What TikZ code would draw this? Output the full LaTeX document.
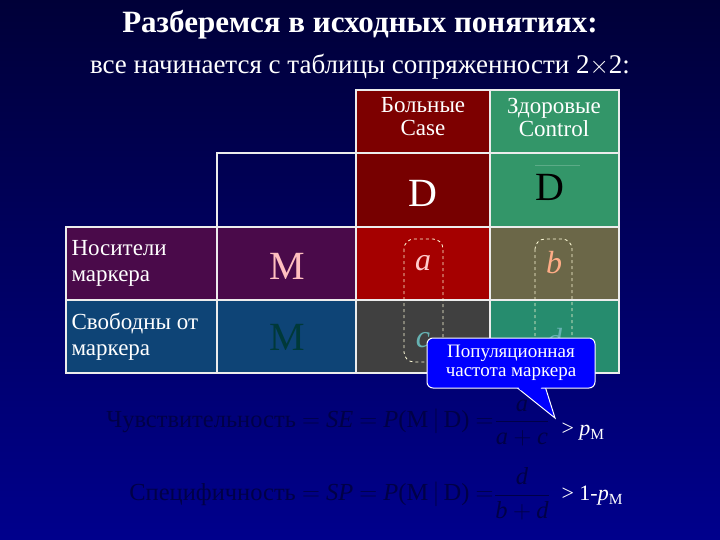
\documentclass[tikz,border=0pt]{standalone}
\usepackage{fontspec}
\setmainfont{Liberation Serif}
\definecolor{hgreen}{RGB}{51,150,105}
\definecolor{dgreen}{RGB}{38,140,110}
\definecolor{bcell}{RGB}{107,103,72}
\definecolor{frow}{RGB}{14,68,118}
\definecolor{prow}{RGB}{74,10,74}
\definecolor{acell}{RGB}{165,0,0}
\definecolor{hred}{RGB}{125,0,0}
\begin{document}
\begin{tikzpicture}[x=1pt,y=-1pt,
 cell/.style={draw=white!85!gray,line width=1.2pt},
 big/.style={font=\fontsize{40}{40}\selectfont},
 let/.style={font=\itshape\fontsize{32}{32}\selectfont},
 lab/.style={font=\fontsize{23}{26}\selectfont,align=left,anchor=west,text=white},
 hdr/.style={font=\fontsize{23}{23}\selectfont,align=center,text=white},
 frm/.style={font=\fontsize{24.5}{24}\selectfont,text=black!72!blue},
 dsh/.style={draw=white!85!yellow,dashed,rounded corners=10pt,line width=0.8pt}]
\useasboundingbox (0,0) rectangle (720,540);
\shade[top color=black!78!blue, bottom color=black!45!blue] (0,0) rectangle (720,540);
\node[text=white,font=\bfseries\fontsize{31}{31}\selectfont] (t) at (360,25) {Разберемся в исходных понятиях:};
\node[text=white,font=\fontsize{27}{27}\selectfont] (st) at (360,67) {все начинается с таблицы сопряженности 2$\times$2:};
% header
\fill[hred] (356,90) rectangle (490,153);
\fill[hgreen] (490,90) rectangle (619,153);
\draw[cell] (356,90) rectangle (490,153) (490,90) rectangle (619,153);
\node[hdr] (h1) at (423,117) {Больные\\Case};
\node[hdr] (h2) at (554,117) {Здоровые\\Control};
% D row
\draw[cell] (217,153) rectangle (356,227);
\fill[hred!95!black] (356,153) rectangle (490,227);
\fill[hgreen] (490,153) rectangle (619,227);
\draw[cell] (356,153) rectangle (490,227) (490,153) rectangle (619,227);
\node[big,text=white] (d1) at (423,193) {D};
\node[big,text=black] (d2) at (550,187) {D};
\draw[hgreen!80!white,line width=0.6pt] (535,165) -- (580,165);
% M row
\fill[prow] (66,227) rectangle (356,300);
\fill[acell] (356,227) rectangle (490,300);
\fill[bcell] (490,227) rectangle (619,300);
\draw[cell] (66,227) rectangle (217,300) (217,227) rectangle (356,300) (356,227) rectangle (490,300) (490,227) rectangle (619,300);
\node[lab] (n1) at (68,263) {Носители\\маркера};
\node[big,text=pink] (m1) at (287,266) {M};
\node[let,text=pink!80!white] (a) at (423,263) {a};
\node[let,text=pink!70!orange] (b) at (554,263) {b};
% not M row
\fill[frow] (66,300) rectangle (356,373);
\fill[black!75] (356,300) rectangle (490,373);
\fill[dgreen] (490,300) rectangle (619,373);
\draw[cell] (66,300) rectangle (217,300) (66,300) rectangle (217,373) (217,300) rectangle (356,373) (356,300) rectangle (490,373) (490,300) rectangle (619,373);
\node[lab] (n2) at (68,337) {Свободны от\\маркера};
\node[big,text=teal!45!black] (m2) at (287,337) {M};
\node[let,text=teal!60!white] (c) at (423,340) {c};
\node[let,text=teal!60!white] (dd) at (554,340) {d};
\draw[dsh] (404,239) rectangle (443,362);
\draw[dsh] (535,239) rectangle (572,362);
% callout
\coordinate (tip) at (555,418);
\fill[blue,draw=white,line width=1pt] (515,386) -- (tip) -- (545,386) -- cycle;
\node[fill=blue,draw=white,line width=1pt,rounded corners=6pt,minimum width=168pt,minimum height=50pt,align=center,text=white,font=\fontsize{19}{19}\selectfont,inner sep=2pt] (call) at (511,363) {Популяционная\\частота маркера};
\fill[blue] (517,384) -- (543,384) -- (540,390) -- (520,390) -- cycle;
% formulas
\node[frm,anchor=east] (f1) at (497,421) {Чувствительность $=$ \textit{SE} $=$ \textit{P}(M$\,|\,$D) $=$};
\node[frm] (fr1) at (522,423) {$\displaystyle\frac{\textit{a}}{\textit{a}+\textit{c}}$};
\node[text=white,font=\fontsize{22}{22}\selectfont,anchor=west] (g1) at (558,432) {> \textit{p}\textsubscript{M}};
\node[frm,anchor=east] (f2) at (497,494) {Специфичность $=$ \textit{SP} $=$ \textit{P}(M$\,|\,$D) $=$};
\node[frm] (fr2) at (522,494) {$\displaystyle\frac{\textit{d}}{\textit{b}+\textit{d}}$};
\node[text=white,font=\fontsize{22}{22}\selectfont,anchor=west] (g2) at (558,496) {> 1-\textit{p}\textsubscript{M}};
\end{tikzpicture}
\end{document}
